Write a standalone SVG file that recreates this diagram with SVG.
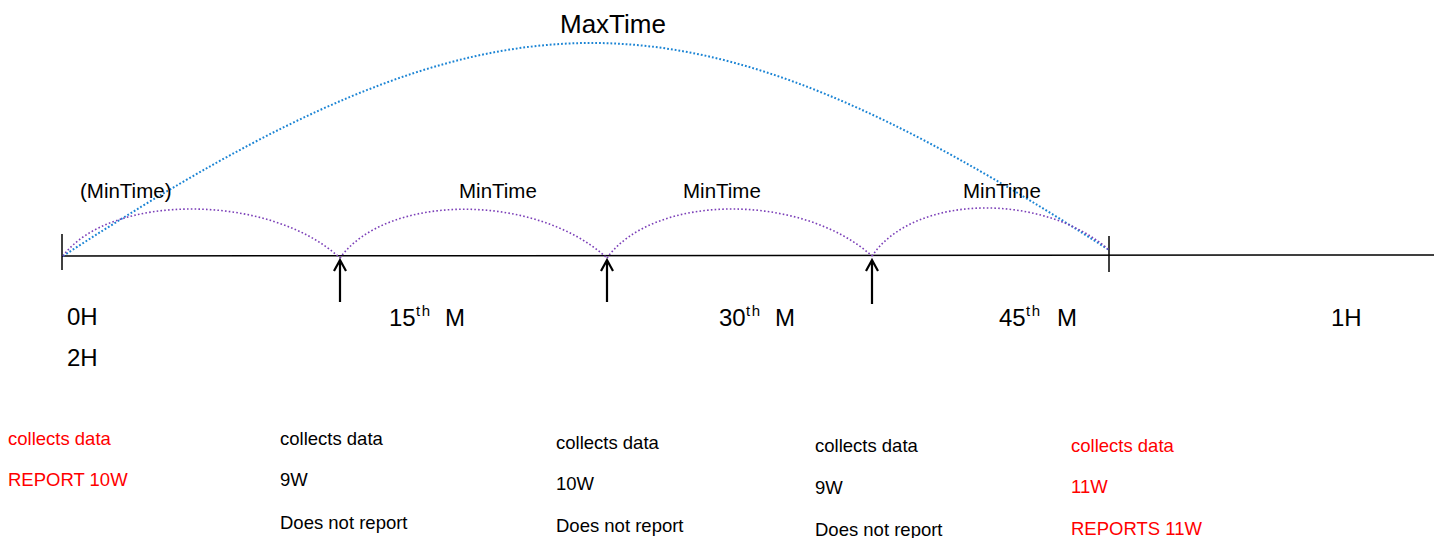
<svg xmlns="http://www.w3.org/2000/svg" width="1434" height="538" viewBox="0 0 1434 538">
<style>
text{font-family:"Liberation Sans",Arial,sans-serif;fill:#000}
.lbl{font-size:20.5px}
.tick{font-size:24px}
.sup{font-size:15px;letter-spacing:1.5px}
.b{font-size:18.5px}
.red{fill:#ff0000}
.axis{stroke:#000;stroke-width:1.5;fill:none}
.arr{stroke:#000;stroke-width:2.2;fill:none}
.min{stroke:#7b3fb8;stroke-width:1.6;stroke-dasharray:1.6 2.2;fill:none}
.max{stroke:#1b84d4;stroke-width:2;stroke-dasharray:1.8 2;fill:none}
</style>
<rect width="1434" height="538" fill="#fff"/>
<g id="connectors">
<line class="axis" x1="62" y1="256" x2="1434" y2="255"/>
<line class="axis" x1="62" y1="234" x2="62" y2="270"/>
<line class="axis" x1="1109" y1="236" x2="1109" y2="272"/>
<path class="max" d="M63,256 C500,-27 680,-27 1109,250"/>
<path class="min" d="M63,256 C110,193 270,193 340,258"/>
<path class="min" d="M340,258 C387,193 536,193 607,258"/>
<path class="min" d="M607,258 C654,193 802,193 872,256"/>
<path class="min" d="M872,256 C915,193 1045,193 1109,250"/>
<path class="arr" d="M340,260 V302 M334,271 L340,260 L346,271"/>
<path class="arr" d="M607,260 V302 M601,271 L607,260 L613,271"/>
<path class="arr" d="M872,260 V304 M866,271 L872,260 L878,271"/>
</g>
<g id="maxtime"><text x="560" y="33" style="font-size:26px">MaxTime</text></g>
<g id="mintime0"><text class="lbl" x="80" y="198">(MinTime)</text></g>
<g id="mintime1"><text class="lbl" x="459" y="198">MinTime</text></g>
<g id="mintime2"><text class="lbl" x="683" y="198">MinTime</text></g>
<g id="mintime3"><text class="lbl" x="963" y="198">MinTime</text></g>
<g id="t0"><text class="tick" x="67" y="325">0H</text><text class="tick" x="67" y="366">2H</text></g>
<g id="t15"><text class="tick" x="389" y="326">15</text><text class="sup" x="416" y="316">th</text><text class="tick" x="445" y="326">M</text></g>
<g id="t30"><text class="tick" x="719" y="326">30</text><text class="sup" x="746" y="316">th</text><text class="tick" x="775" y="326">M</text></g>
<g id="t45"><text class="tick" x="999" y="326">45</text><text class="sup" x="1026" y="316">th</text><text class="tick" x="1057" y="326">M</text></g>
<g id="t60"><text class="tick" x="1331" y="326">1H</text></g>
<g id="c1"><text class="b red" x="8" y="445">collects data</text><text class="b red" x="8" y="486">REPORT 10W</text></g>
<g id="c2"><text class="b" x="280" y="445">collects data</text><text class="b" x="280" y="486">9W</text><text class="b" x="280" y="529">Does not report</text></g>
<g id="c3"><text class="b" x="556" y="449">collects data</text><text class="b" x="556" y="490">10W</text><text class="b" x="556" y="532">Does not report</text></g>
<g id="c4"><text class="b" x="815" y="452">collects data</text><text class="b" x="815" y="494">9W</text><text class="b" x="815" y="536">Does not report</text></g>
<g id="c5"><text class="b red" x="1071" y="452">collects data</text><text class="b red" x="1071" y="493">11W</text><text class="b red" x="1071" y="535">REPORTS 11W</text></g>
</svg>
